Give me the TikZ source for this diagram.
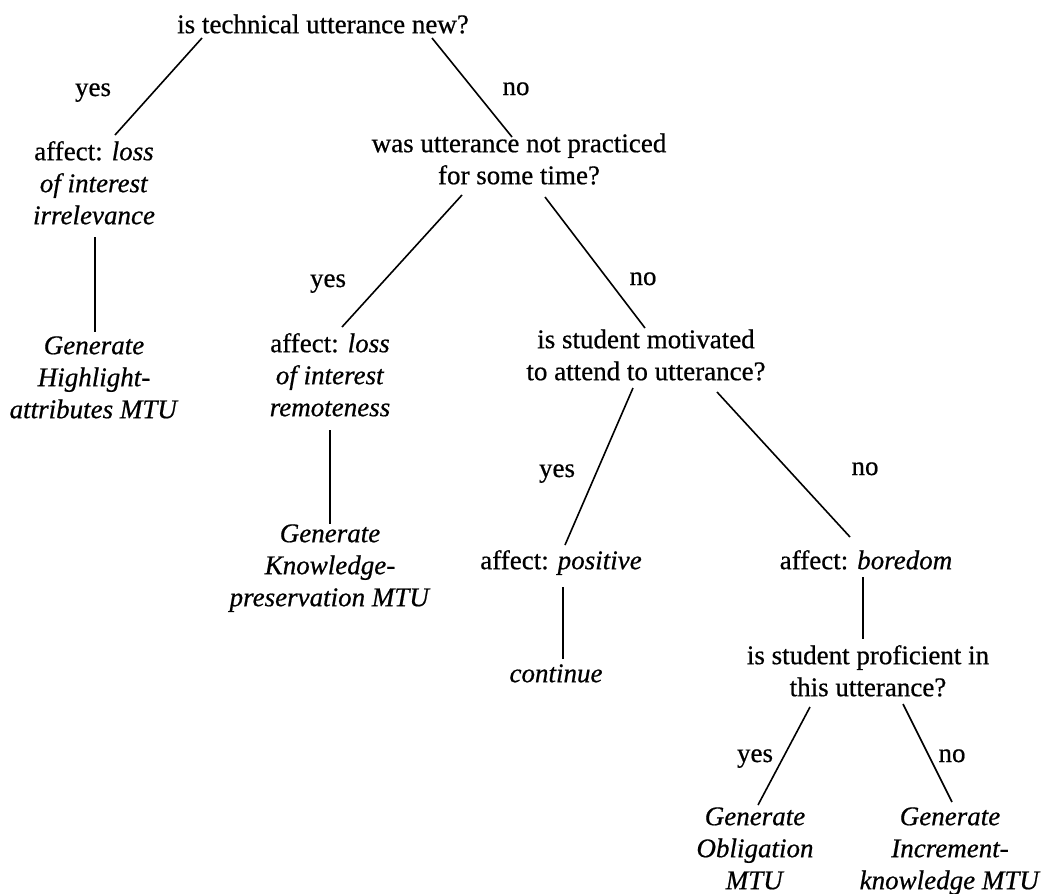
\documentclass[tikz,border=0pt]{standalone}
\usepackage{fontspec}
\setmainfont{Liberation Serif}[UprightFeatures={FakeBold=0.6},ItalicFeatures={FakeBold=0.6}]
\begin{document}
\begin{tikzpicture}[x=1pt,y=-1pt,
  txt/.style={align=center,inner sep=0pt,anchor=north,
    font=\fontsize{27}{32}\selectfont},
  lbl/.style={inner sep=0pt,anchor=base,font=\fontsize{27}{32}\selectfont},
  edge/.style={line width=1.6pt}]
\useasboundingbox (0,0) rectangle (1050,894);
% decision and outcome nodes (struts give every box the same line metrics)
\node[txt] (root) at (323,10.6) {\strut is technical utterance new?\strut};
\node[txt] (aff1) at (94,137.6) {\strut affect: \textit{loss}\\\textit{of interest}\\\textit{irrelevance}\strut};
\node[txt] (gen1) at (94,331.6) {\strut\textit{Generate}\\\textit{Highlight-}\\\textit{attributes MTU}\strut};
\node[txt] (q2) at (519,129.6) {\strut was utterance not practiced\\for some time?\strut};
\node[txt] (aff2) at (330,329.6) {\strut affect: \textit{loss}\\\textit{of interest}\\\textit{remoteness}\strut};
\node[txt] (gen2) at (330,519.6) {\strut\textit{Generate}\\\textit{Knowledge-}\\\textit{preservation MTU}\strut};
\node[txt] (q3) at (646,325.6) {\strut is student motivated\\to attend to utterance?\strut};
\node[txt] (affpos) at (561,546.6) {\strut affect: \textit{positive}\strut};
\node[txt] (cont) at (556,659.6) {\strut\textit{continue}\strut};
\node[txt] (affbor) at (866,546.6) {\strut affect: \textit{boredom}\strut};
\node[txt] (q4) at (868,641.6) {\strut is student proficient in\\this utterance?\strut};
\node[txt] (gen3) at (755,802.6) {\strut\textit{Generate}\\\textit{Obligation}\\\textit{MTU}\strut};
\node[txt] (gen4) at (950,802.6) {\strut\textit{Generate}\\\textit{Increment-}\\\textit{knowledge MTU}\strut};
% branch labels
\node[lbl] (y1) at (93,96) {yes};
\node[lbl] (n1) at (516,95) {no};
\node[lbl] (y2) at (328,287) {yes};
\node[lbl] (n2) at (643,285) {no};
\node[lbl] (y3) at (557,477) {yes};
\node[lbl] (n3) at (865,475) {no};
\node[lbl] (y4) at (755,762) {yes};
\node[lbl] (n4) at (952,762) {no};
% connectors
\draw[edge] ([shift={(-121,27.4)}]root.north) -- ([shift={(21,-2.6)}]aff1.north);
\draw[edge] ([shift={(109,27.4)}]root.north) -- ([shift={(-7,7.4)}]q2.north);
\draw[edge] ([shift={(1,99.4)}]aff1.north) -- ([shift={(1,0.4)}]gen1.north);
\draw[edge] ([shift={(-57,65.4)}]q2.north) -- ([shift={(12,-2.6)}]aff2.north);
\draw[edge] ([shift={(26,67.4)}]q2.north) -- ([shift={(-1,2.4)}]q3.north);
\draw[edge] ([shift={(0,100.4)}]aff2.north) -- ([shift={(0,4.4)}]gen2.north);
\draw[edge] ([shift={(-13,62.4)}]q3.north) -- ([shift={(4,-1.6)}]affpos.north);
\draw[edge] ([shift={(71,66.4)}]q3.north) -- ([shift={(-16,-9.6)}]affbor.north);
\draw[edge] ([shift={(2,40.4)}]affpos.north) -- ([shift={(7,-0.6)}]cont.north);
\draw[edge] ([shift={(-3,30.4)}]affbor.north) -- ([shift={(-5,-2.6)}]q4.north);
\draw[edge] ([shift={(-58,65.4)}]q4.north) -- ([shift={(3,2.4)}]gen3.north);
\draw[edge] ([shift={(35,62.4)}]q4.north) -- ([shift={(2,-0.6)}]gen4.north);
\end{tikzpicture}
\end{document}
